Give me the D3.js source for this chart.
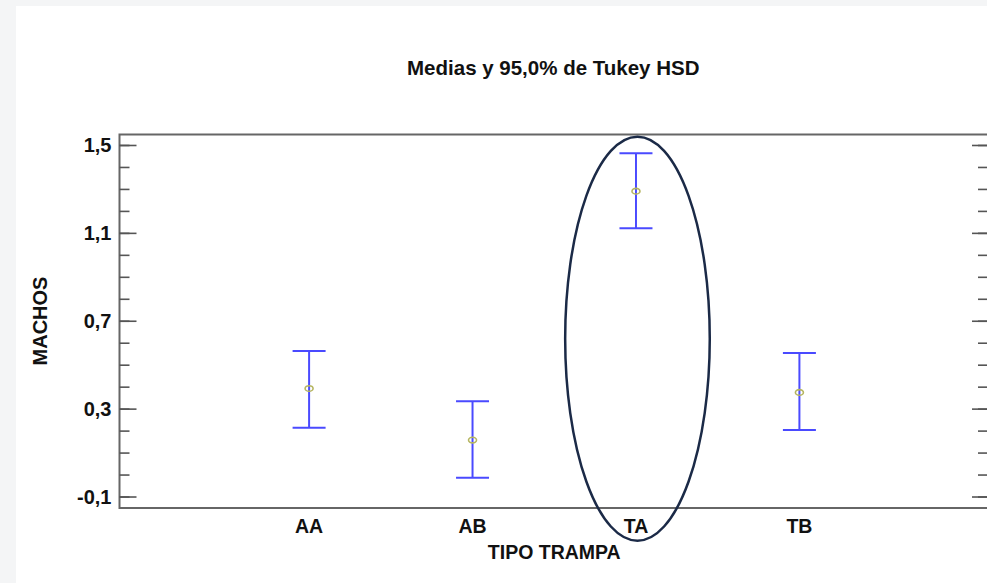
<!DOCTYPE html>
<meta charset="utf-8">
<head>
    <title>Medias y 95,0% de Tukey HSD</title>
    <style>
        body { margin: 0; background: #f4f5f6; }
        text { font-family: Arial, "Liberation Sans", sans-serif; font-weight: bold; fill: #111; }
    </style>
</head>
<body>
<script src="https://d3js.org/d3.v7.min.js"></script>
<svg id="chart" width="987" height="583"></svg>

<script>
    // data
    var categories = ["AA", "AB", "TA", "TB"],
        means = [0.394, 0.159, 1.292, 0.376],
        lower = [0.215, -0.012, 1.123, 0.205],
        upper = [0.565, 0.336, 1.465, 0.555],
        majorTicks = [-0.1, 0.3, 0.7, 1.1, 1.5],
        minorTicks = d3.range(-0.1, 1.55, 0.1);

    var svg = d3.select("#chart"),
        width = +svg.attr("width"),
        height = +svg.attr("height"),
        plotLeft = 119.5, plotRight = 989, plotTop = 134.5, plotBottom = 508;

    // white sheet
    svg.append("rect")
        .attr("x", 16).attr("y", 6)
        .attr("width", width - 16).attr("height", height - 6)
        .attr("fill", "#fff");

    var x = d3.scalePoint().domain(categories).range([plotLeft, plotRight]).padding(1.16),
        y = d3.scaleLinear().domain([-0.15, 1.55]).range([plotBottom, plotTop]);

    // comma decimals and a plain hyphen for negatives
    var comma = function (v) { return d3.format(".1f")(v).replace(".", ",").replace("\u2212", "-"); };

    // frame
    svg.append("rect")
        .attr("x", plotLeft).attr("y", plotTop)
        .attr("width", plotRight - plotLeft).attr("height", plotBottom - plotTop)
        .attr("fill", "none")
        .attr("stroke", "#666")
        .attr("stroke-width", 2);

    // left axis: ticks point inward
    var leftAxis = svg.append("g").attr("transform", "translate(" + plotLeft + ",0)");
    leftAxis.selectAll("line.minor")
        .data(minorTicks)
        .enter().append("line")
        .attr("x1", 0).attr("x2", 10)
        .attr("y1", d => y(d)).attr("y2", d => y(d))
        .attr("stroke", "#555").attr("stroke-width", 1.6);
    leftAxis.selectAll("line.major")
        .data(majorTicks)
        .enter().append("line")
        .attr("x1", 0).attr("x2", 17)
        .attr("y1", d => y(d)).attr("y2", d => y(d))
        .attr("stroke", "#555").attr("stroke-width", 1.6);
    leftAxis.selectAll("text")
        .data(majorTicks)
        .enter().append("text")
        .attr("x", -8)
        .attr("y", d => y(d) + 7)
        .attr("text-anchor", "end")
        .style("font-size", "20px")
        .text(comma);

    // right axis: mirror ticks, no labels
    var rightAxis = svg.append("g").attr("transform", "translate(" + plotRight + ",0)");
    rightAxis.selectAll("line.minor")
        .data(minorTicks)
        .enter().append("line")
        .attr("x1", 0).attr("x2", -11)
        .attr("y1", d => y(d)).attr("y2", d => y(d))
        .attr("stroke", "#555").attr("stroke-width", 1.6);
    rightAxis.selectAll("line.major")
        .data(majorTicks)
        .enter().append("line")
        .attr("x1", 0).attr("x2", -17)
        .attr("y1", d => y(d)).attr("y2", d => y(d))
        .attr("stroke", "#555").attr("stroke-width", 1.6);

    // category labels
    svg.selectAll("text.cat")
        .data(categories)
        .enter().append("text")
        .attr("class", "cat")
        .attr("x", d => x(d))
        .attr("y", 533)
        .attr("text-anchor", "middle")
        .style("font-size", "19.5px")
        .text(d => d);

    // error bars
    var bars = svg.selectAll("g.bar")
        .data(categories)
        .enter().append("g")
        .attr("class", "bar");

    bars.append("line")
        .attr("x1", d => x(d)).attr("x2", d => x(d))
        .attr("y1", (d, i) => y(upper[i])).attr("y2", (d, i) => y(lower[i]))
        .attr("stroke", "#4a4aff").attr("stroke-width", 2);
    bars.append("line")
        .attr("x1", d => x(d) - 16.5).attr("x2", d => x(d) + 16.5)
        .attr("y1", (d, i) => y(upper[i])).attr("y2", (d, i) => y(upper[i]))
        .attr("stroke", "#4a4aff").attr("stroke-width", 2);
    bars.append("line")
        .attr("x1", d => x(d) - 16.5).attr("x2", d => x(d) + 16.5)
        .attr("y1", (d, i) => y(lower[i])).attr("y2", (d, i) => y(lower[i]))
        .attr("stroke", "#4a4aff").attr("stroke-width", 2);
    bars.append("ellipse")
        .attr("cx", d => x(d))
        .attr("cy", (d, i) => y(means[i]))
        .attr("rx", 4).attr("ry", 2.8)
        .attr("fill", "none")
        .attr("stroke", "#b5b560").attr("stroke-width", 1.6);

    // hand-drawn highlight around TA
    svg.append("ellipse")
        .attr("cx", x("TA") + 1.5)
        .attr("cy", 338.7)
        .attr("rx", 72.3).attr("ry", 202)
        .attr("fill", "none")
        .attr("stroke", "#1b2a47")
        .attr("stroke-width", 2.5);

    // titles
    svg.append("text")
        .attr("x", (plotLeft + plotRight) / 2 - 1)
        .attr("y", 75)
        .attr("text-anchor", "middle")
        .style("font-size", "20.5px")
        .text("Medias y 95,0% de Tukey HSD");

    svg.append("text")
        .attr("x", (plotLeft + plotRight) / 2)
        .attr("y", 559)
        .attr("text-anchor", "middle")
        .style("font-size", "19.5px")
        .text("TIPO TRAMPA");

    svg.append("text")
        .attr("transform", "translate(47,321) rotate(-90)")
        .attr("text-anchor", "middle")
        .style("font-size", "20px")
        .text("MACHOS");
</script>

</body>
